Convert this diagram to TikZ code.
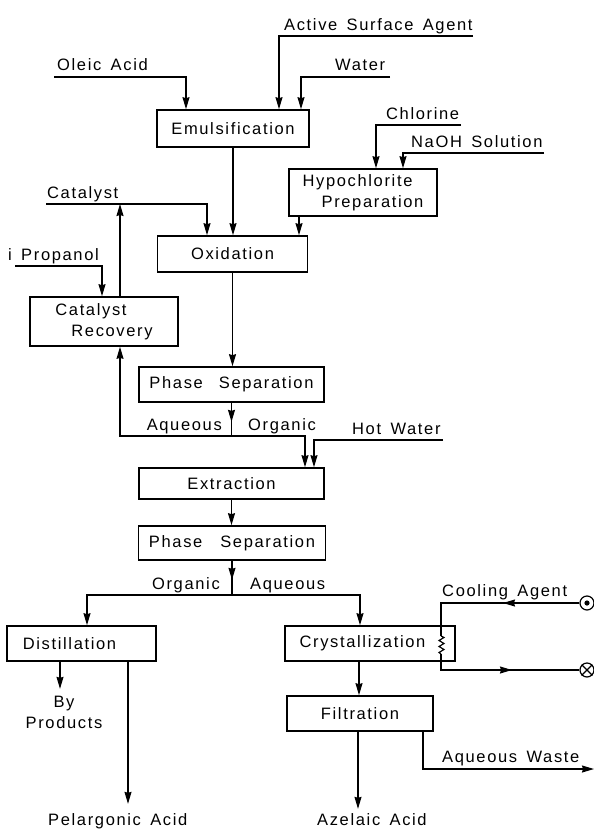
\documentclass[tikz,border=0pt]{standalone}
\usepackage{fontspec}
\setmainfont{Liberation Sans}[LetterSpace=10, WordSpace=1.5]
\usetikzlibrary{arrows.meta}
\begin{document}
\begin{tikzpicture}[x=1pt,y=-1pt,
  every node/.style={font=\fontsize{16.5}{21}\selectfont, inner sep=0pt},
  proc/.style={draw, line width=1.7pt, inner sep=0pt},
  conn/.style={line width=1.15pt},
  arr/.style={conn, -{Stealth[length=12pt,width=7pt,inset=1pt]}},
  lbl/.style={anchor=base west},
  port/.style={circle, draw, line width=1.2pt, minimum size=14pt, inner sep=0pt}]
\fill[white] (0,0) rectangle (594,831);
\useasboundingbox (0,0) rectangle (594,831);

% process boxes
\node[proc, minimum width=152pt, minimum height=37pt] (emul) at (233,128.5) {Emulsification};
\node[proc, minimum width=148pt, minimum height=47pt, align=left] (hypo) at (363,192.5) {Hypochlorite\\\hspace*{19pt}Preparation};
\node[proc, minimum width=150pt, minimum height=36pt] (oxid) at (232.5,254) {Oxidation};
\node[proc, minimum width=148pt, minimum height=49pt, align=left] (catrec) at (104,321.5) {Catalyst\\\hspace*{16pt}Recovery};
\node[proc, minimum width=185pt, minimum height=35pt] (ps1) at (231.5,384.5) {Phase\hspace{16pt}Separation};
\node[proc, minimum width=185pt, minimum height=31pt] (extr) at (231.5,483.5) {Extraction};
\node[proc, minimum width=187pt, minimum height=34pt] (ps2) at (232,543) {Phase\hspace{18pt}Separation};
\node[proc, minimum width=149pt, minimum height=35pt] (dist) at (81.5,643.5) {Distillation\hspace*{24pt}};
\node[proc, minimum width=170pt, minimum height=35pt] (cryst) at (370,643.5) {Crystallization\hspace*{15pt}};
\node[proc, minimum width=146pt, minimum height=35pt] (filt) at (360,713.5) {Filtration};

% feed labels
\node[lbl] (asaL) at (284,30) {Active Surface Agent};
\node[lbl] (oleicL) at (57,70) {Oleic Acid};
\node[lbl] (waterL) at (335,70) {Water};
\node[lbl] (chlorL) at (386,119) {Chlorine};
\node[lbl] (naohL) at (411,147) {NaOH Solution};
\node[lbl] (catL) at (47,198) {Catalyst};
\node[lbl] (ipL) at (8,260) {i Propanol};
\node[lbl] (hotL) at (352,434) {Hot Water};
\node[anchor=base east] (aq1L) at (222,430) {Aqueous};
\node[lbl] (org1L) at (248,430) {Organic};
\node[anchor=base east] (org2L) at (220,589) {Organic};
\node[lbl] (aq2L) at (250,589) {Aqueous};
\node[lbl] (coolL) at (442,596) {Cooling Agent};
\node[lbl] (wasteL) at (442,762) {Aqueous Waste};
\node[anchor=north, align=center] (byL) at (64,696) {By\\Products};
\node[lbl] (pelL) at (48,825) {Pelargonic Acid};
\node[lbl] (azeL) at (317,825) {Azelaic Acid};

% free ends
\coordinate (asaS) at (473,36);
\coordinate (oleicS) at (54,77);
\coordinate (waterS) at (390,77);
\coordinate (chlorS) at (461,125);
\coordinate (naohS) at (544,153);
\coordinate (catS) at (46,204);
\coordinate (ipS) at (15,266);
\coordinate (hotS) at (443,440);
\coordinate (j1) at (231.5,436);
\coordinate (j2) at (232,595);
\coordinate (wasteE) at (594,769);

% feeds
\draw[arr] (asaS) -| ([xshift=46pt]emul.north);
\draw[arr] (oleicS) -| ([xshift=-47pt]emul.north);
\draw[arr] (waterS) -| ([xshift=68pt]emul.north);
\draw[arr] (chlorS) -| ([xshift=13pt]hypo.north);
\draw[arr] (naohS) -| ([xshift=40pt]hypo.north);
\draw[arr] (catS) -| ([xshift=-25.5pt]oxid.north);
\draw[arr] (ipS) -| ([xshift=-2pt]catrec.north);
\draw[arr] (hotS) -| ([xshift=82.5pt]extr.north);

% main flow
\draw[arr] (emul.south) -- (emul.south |- oxid.north);
\draw[arr] ([xshift=-64pt]hypo.south) -- ([xshift=-64pt]hypo.south |- oxid.north);
\draw[arr] ([xshift=16pt]catrec.north) -- ([xshift=16pt]catrec.north |- catS);
\draw[arr] (oxid.south) -- (oxid.south |- ps1.north);
\draw[conn] (ps1.south) -- (j1);
\draw[arr] (ps1.south) -- ++(0,19);
\draw[arr] (j1) -| ([xshift=16pt]catrec.south);
\draw[arr] (j1) -| ([xshift=73.5pt]extr.north);
\draw[arr] (extr.south) -- (extr.south |- ps2.north);
\draw[conn] (ps2.south) -- (j2);
\draw[arr] (ps2.south) -- ++(0,19);
\draw[arr] (j2) -| ([xshift=5.5pt]dist.north);
\draw[arr] (j2) -| ([xshift=-10pt]cryst.north);
\draw[arr] ([xshift=-21.5pt]dist.south) -- ++(0,27);
\draw[arr] ([xshift=46.5pt]dist.south) -- ++(0,142);
\draw[arr] ([xshift=-11pt]cryst.south) -- ([xshift=-11pt]cryst.south |- filt.north);
\draw[arr] ([xshift=-2pt]filt.south) -- ++(0,77);
\draw[arr] ([xshift=63pt]filt.south) |- (wasteE);

% cooling circuit
\node[port] (cin) at (587,603) {};
\fill (cin.center) circle (2.6pt);
\node[port] (cout) at (587,670) {};
\draw[line width=1.2pt] (cout.north east) -- (cout.south west) (cout.north west) -- (cout.south east);
\coordinate (coilT) at (441,636);
\coordinate (coilB) at (441,654);
\draw[conn] (cin.west) -| (coilT);
\draw[arr] (cin.west) -- (503,603);
\draw[conn] (coilT) -- ++(3,1.5) -- ++(-5,3) -- ++(5,3) -- ++(-5,3) -- ++(5,3) -- ++(-5,3) -- (coilB);
\draw[conn] (coilB) |- (cout.west);
\draw[arr] (coilB |- cout.west) -- (512,670);
\end{tikzpicture}
\end{document}
